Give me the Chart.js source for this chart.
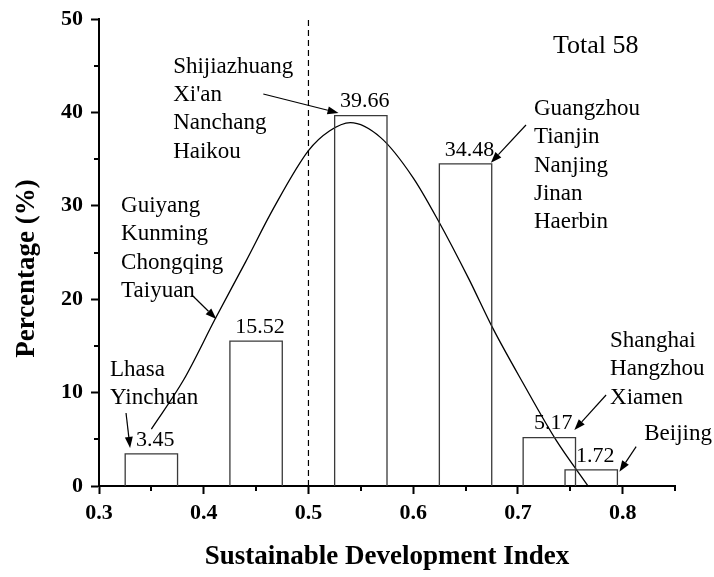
<!DOCTYPE html>
<html>
<head>
<meta charset="utf-8">
<script src="https://cdn.jsdelivr.net/npm/chart.js@4.4.0/dist/chart.umd.min.js"></script>
<style>
  html, body { margin: 0; padding: 0; background: #fff; }
</style>
</head>
<body>
<canvas id="chart" width="714" height="577"></canvas>
<script>
// Histogram bins of the sustainable development index (share of the 58 cities, %)
const binStart = [0.325, 0.425, 0.525, 0.625, 0.705, 0.745];
const binEnd = [0.375, 0.475, 0.575, 0.675, 0.755, 0.795];
const percentage = [3.45, 15.52, 39.66, 34.48, 5.17, 1.72];

// Fitted distribution curve
const curveX = [0.350, 0.381, 0.411, 0.440, 0.467, 0.500, 0.520, 0.540, 0.569, 0.600, 0.624, 0.653, 0.676, 0.705, 0.736, 0.767];
const curveY = [6.1, 11.4, 17.9, 24.0, 29.8, 35.9, 38.0, 38.9, 37.3, 33.0, 28.4, 22.2, 16.9, 11.0, 5.0, 0];

// Reference line
const dividerX = 0.5;

// Axis ticks
const xTicks = [0.3, 0.4, 0.5, 0.6, 0.7, 0.8];
const xMinorTicks = [0.35, 0.45, 0.55, 0.65, 0.75, 0.85];
const yTicks = [0, 10, 20, 30, 40, 50];
const yMinorTicks = [5, 15, 25, 35, 45];

// Cities in each bin
const cityGroups = [
  ['Lhasa', 'Yinchuan'],
  ['Guiyang', 'Kunming', 'Chongqing', 'Taiyuan'],
  ['Shijiazhuang', "Xi'an", 'Nanchang', 'Haikou'],
  ['Guangzhou', 'Tianjin', 'Nanjing', 'Jinan', 'Haerbin'],
  ['Shanghai', 'Hangzhou', 'Xiamen'],
  ['Beijing']
];
const totalLabel = 'Total 58';
const xTitle = 'Sustainable Development Index';
const yTitle = 'Percentage (%)';

// Placement of the city lists and their arrows, in axis units
const groupPlacement = [
  { at: [0.3105, 12.45], tail: [0.3258, 7.82], head: [0.3297, 4.07] },
  { at: [0.3211, 29.98], tail: [0.3887, 20.45], head: [0.4120, 17.88] },
  { at: [0.3708, 44.89], tail: [0.4569, 41.97], head: [0.5287, 39.94] },
  { at: [0.7153, 40.36], tail: [0.7077, 38.65], head: [0.6742, 34.61] },
  { at: [0.7880, 15.52], tail: [0.7842, 9.74], head: [0.7539, 6.00] },
  { at: [0.8206, 5.57], tail: [0.8129, 4.21], head: [0.7969, 1.53] }
];
const totalPlacement = [0.7335, 47.06];

const SERIF = '"Liberation Serif", "Times New Roman", serif';

// One outlined rectangle per bin
const barSets = percentage.map((h, i) => ({
  data: [
    { x: binStart[i], y: 0 },
    { x: binStart[i], y: h },
    { x: binEnd[i], y: h },
    { x: binEnd[i], y: 0 }
  ],
  showLine: true,
  borderColor: '#3a3a3a',
  borderWidth: 1.3,
  pointRadius: 0,
  fill: false,
  tension: 0
}));

const curveSet = {
  data: curveX.map((x, i) => ({ x, y: curveY[i] })),
  showLine: true,
  borderColor: '#000',
  borderWidth: 1.3,
  pointRadius: 0,
  fill: false,
  cubicInterpolationMode: 'monotone'
};

const dividerSet = {
  data: [{ x: dividerX, y: 0 }, { x: dividerX, y: 50 }],
  showLine: true,
  borderColor: '#000',
  borderWidth: 1.2,
  borderDash: [6, 4],
  pointRadius: 0,
  fill: false
};

function drawArrow(ctx, x1, y1, x2, y2) {
  const ang = Math.atan2(y2 - y1, x2 - x1);
  const len = 11, half = 4;
  const bx = x2 - len * Math.cos(ang), by = y2 - len * Math.sin(ang);
  ctx.beginPath();
  ctx.moveTo(x1, y1);
  ctx.lineTo(bx, by);
  ctx.stroke();
  ctx.beginPath();
  ctx.moveTo(x2, y2);
  ctx.lineTo(bx + half * Math.sin(ang), by - half * Math.cos(ang));
  ctx.lineTo(bx - half * Math.sin(ang), by + half * Math.cos(ang));
  ctx.closePath();
  ctx.fill();
}

const annotations = {
  id: 'annotations',
  afterDatasetsDraw(chart) {
    const { ctx, chartArea } = chart;
    const xs = chart.scales.x, ys = chart.scales.y;
    ctx.save();
    ctx.fillStyle = '#000';
    ctx.strokeStyle = '#000';

    // minor ticks
    ctx.lineWidth = 2;
    ctx.beginPath();
    xMinorTicks.forEach(v => {
      const px = Math.round(xs.getPixelForValue(v));
      ctx.moveTo(px, chartArea.bottom);
      ctx.lineTo(px, chartArea.bottom + 5);
    });
    yMinorTicks.forEach(v => {
      const py = Math.round(ys.getPixelForValue(v));
      ctx.moveTo(chartArea.left, py);
      ctx.lineTo(chartArea.left - 5, py);
    });
    ctx.stroke();

    // bar values
    ctx.font = '22px ' + SERIF;
    ctx.textAlign = 'center';
    ctx.textBaseline = 'middle';
    percentage.forEach((h, i) => {
      const cx = xs.getPixelForValue((binStart[i] + binEnd[i]) / 2) + 4;
      const cy = ys.getPixelForValue(h) - 14;
      ctx.fillText(h.toFixed(2), cx, cy);
    });

    // city lists
    ctx.font = '23px ' + SERIF;
    ctx.textAlign = 'left';
    cityGroups.forEach((names, g) => {
      const p = groupPlacement[g];
      const left = xs.getPixelForValue(p.at[0]);
      const top = ys.getPixelForValue(p.at[1]);
      names.forEach((n, k) => ctx.fillText(n, left, top + k * 28.3));
    });

    // arrows
    ctx.lineWidth = 1.2;
    groupPlacement.forEach(p => {
      drawArrow(ctx,
        xs.getPixelForValue(p.tail[0]), ys.getPixelForValue(p.tail[1]),
        xs.getPixelForValue(p.head[0]), ys.getPixelForValue(p.head[1]));
    });

    // total
    ctx.font = '26px ' + SERIF;
    ctx.fillText(totalLabel, xs.getPixelForValue(totalPlacement[0]), ys.getPixelForValue(totalPlacement[1]));

    // axis titles
    ctx.font = 'bold 27px ' + SERIF;
    ctx.textAlign = 'center';
    ctx.fillText(xTitle, (chartArea.left + chartArea.right) / 2, 557);
    ctx.translate(27.5, (chartArea.top + chartArea.bottom) / 2 + 16);
    ctx.rotate(-Math.PI / 2);
    ctx.fillText(yTitle, 0, 0);
    ctx.restore();
  }
};

const tickFont = { family: SERIF, size: 22, weight: 'bold' };

new Chart(document.getElementById('chart'), {
  type: 'scatter',
  data: { datasets: [...barSets, curveSet, dividerSet] },
  options: {
    responsive: false,
    animation: false,
    layout: { padding: { top: 19, right: 39, left: 0, bottom: 0 } },
    plugins: { legend: { display: false }, tooltip: { enabled: false } },
    scales: {
      x: {
        type: 'linear',
        min: 0.3,
        max: 0.85,
        afterBuildTicks: s => { s.ticks = xTicks.map(v => ({ value: v })); },
        afterFit: s => { s.height = 91; s.paddingLeft = 0; s.paddingRight = 0; },
        grid: { drawOnChartArea: false, drawTicks: true, tickLength: 8, tickWidth: 2, tickColor: '#000' },
        border: { display: true, color: '#000', width: 2 },
        ticks: { font: tickFont, color: '#000', padding: 6, maxRotation: 0, callback: v => Number(v).toFixed(1) }
      },
      y: {
        type: 'linear',
        min: 0,
        max: 50,
        afterBuildTicks: s => { s.ticks = yTicks.map(v => ({ value: v })); },
        afterFit: s => { s.width = 99; s.paddingTop = 0; s.paddingBottom = 0; },
        grid: { drawOnChartArea: false, drawTicks: true, tickLength: 8, tickWidth: 2, tickColor: '#000' },
        border: { display: true, color: '#000', width: 2 },
        ticks: { font: tickFont, color: '#000', padding: 8, callback: v => String(v) }
      }
    }
  },
  plugins: [annotations]
});
</script>
</body>
</html>
